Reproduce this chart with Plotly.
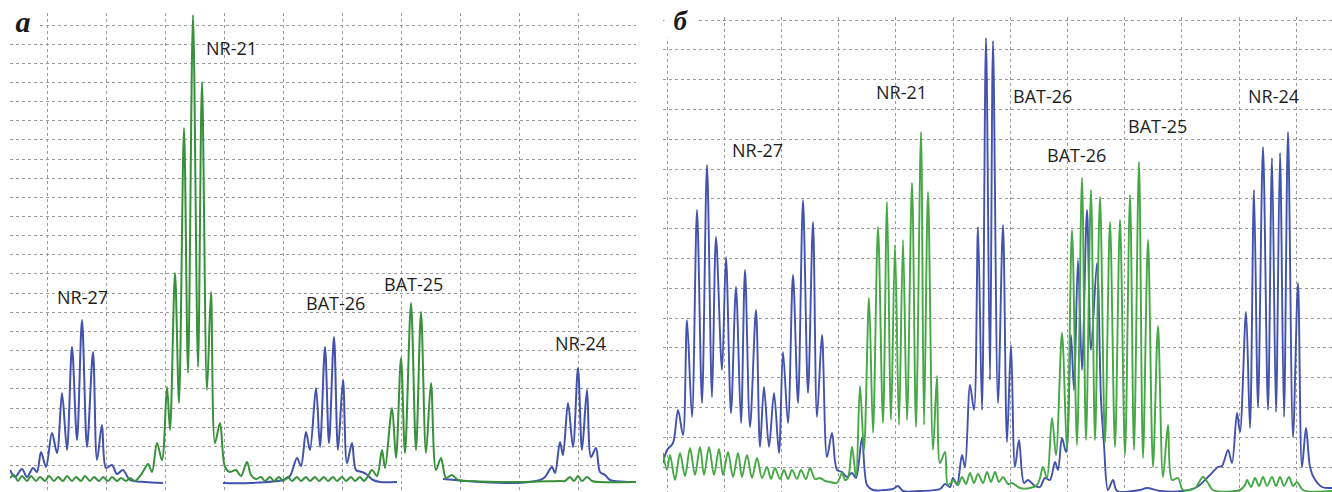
import plotly.graph_objects as go

# ---------------- Panel a (scan position, signal RFU) ----------------
a_blue_x = [10, 15, 22, 27, 33, 37, 41, 46, 52, 57, 62, 67, 72, 77, 82, 87, 93, 97, 102, 106, 112, 117, 123, 130, 145, 163, None,
            223, 250, 283, 290, 297, 301, 306, 310, 316, 320, 325, 329, 334, 338, 343, 347, 352, 356, 362, 366, 373, 380, 397, None,
            443, 480, 517, 540, 545, 552, 555, 560, 563, 568, 573, 578, 582, 587, 591, 596, 600, 605, 610, 630, 636]
a_blue_y = [20, 13, 21, 13, 22, 18, 38, 23, 57, 37, 97, 40, 143, 50, 170, 43, 138, 30, 65, 22, 25, 16, 20, 10, 8, 7, None,
            7, 7, 10, 14, 32, 24, 58, 40, 102, 43, 143, 47, 153, 40, 110, 27, 47, 20, 18, 16, 10, 8, 8, None,
            11, 8, 7, 10, 13, 23, 17, 48, 35, 87, 43, 122, 40, 100, 33, 42, 18, 15, 10, 8, 8]

a_green_x = [10, 14, 18, 22, 27, 31, 36, 40, 45, 49, 54, 58, 63, 67, 72, 76, 81, 85, 90, 94, 99, 103, 108, 112, 117, 121, 126, 130, 135,
             140, 144, 148, 152, 157, 162, 167, 170, 175, 179, 184, 188, 193, 198, 202, 207, 211, 215, 220, 225, 230, 236, 241, 247, 251, 256,
             261, 265, 270, 274, 279, 283, 288, 292, 297, 301, 306, 310, 315, 319, 324, 328, 333, 337, 342, 346, 351, 355, 360, 364, 368, 372,
             377, 382, 385, 392, 396, 401, 405, 411, 416, 421, 426, 431, 436, 441, 446, 452, 458, 470, 520, 560, 565, 570, 574, 578, 582, 587,
             592, 600, 636]
a_green_y = [12, 15, 9, 14, 9, 14, 9, 13, 9, 14, 9, 13, 9, 14, 9, 13, 9, 14, 9, 13, 9, 13, 9, 13, 9, 12, 9, 12, 9,
             14, 20, 26, 18, 47, 30, 103, 60, 217, 87, 362, 117, 475, 123, 408, 100, 198, 47, 67, 23, 18, 20, 14, 28, 15, 11,
             13, 9, 13, 9, 13, 9, 13, 9, 13, 9, 13, 9, 13, 9, 13, 9, 13, 9, 13, 9, 13, 9, 13, 9, 14, 20,
             14, 40, 22, 82, 32, 132, 37, 187, 40, 178, 37, 107, 20, 32, 12, 15, 10, 9, 8, 9, 9, 13, 9, 14, 9, 13,
             9, 8, 8]

a_labels = ["NR-27", "NR-21", "BAT-26", "BAT-25", "NR-24"]
a_label_x = [82, 231, 335, 413, 580]
a_label_y = [193, 442, 187, 206, 147]

# ---------------- Panel б ----------------
b_blue_x = [663, 667, 673, 678, 683, 687, 692, 697, 702, 707, 712, 716, 722, 726, 731, 736, 741, 745, 750, 756, 760, 764, 769, 774, 779,
            783, 788, 793, 798, 803, 808, 813, 817, 822, 827, 832, 837, 842, 847, 852, 856, 862, 867, 873, 885, 893, 898, 903, 920, 940,
            945, 950, 953, 957, 962, 965, 970, 974, 978, 982, 986, 990, 993, 998, 1003, 1007, 1011, 1015, 1019, 1024, 1028, 1035, 1040,
            1045, 1050, 1055, 1058, 1062, 1066, 1071, 1074, 1078, 1082, 1087, 1091, 1097, 1101, 1104, 1108, 1113, 1117, 1140, 1147, 1160,
            1183, 1197, 1210, 1218, 1222, 1228, 1232, 1237, 1240, 1246, 1250, 1254, 1258, 1263, 1268, 1272, 1276, 1280, 1284, 1288, 1293,
            1298, 1302, 1306, 1310, 1314, 1322, 1332]
b_blue_y = [27, 40, 47, 80, 55, 170, 73, 280, 87, 325, 93, 253, 120, 233, 77, 203, 67, 220, 63, 180, 43, 103, 43, 97, 37,
            138, 67, 215, 87, 290, 97, 268, 73, 155, 33, 57, 20, 18, 13, 17, 12, 52, 5, 0, 0, 1, 4, -1, -1, 1,
            6, 3, 12, 5, 35, 23, 105, 80, 263, 80, 452, 110, 449, 87, 265, 48, 145, 23, 50, 7, 10, 4, 3,
            12, 10, 28, 20, 52, 38, 155, 100, 230, 120, 280, 140, 227, 90, 45, 0, 10, -1, 0, 2, -1,
            -1, 3, 15, 23, 24, 40, 27, 77, 58, 178, 62, 300, 83, 343, 80, 332, 78, 337, 73, 358, 53,
            207, 23, 62, 23, 12, 3, 2]

b_green_x = [663, 667, 670, 675, 680, 685, 690, 695, 700, 704, 709, 714, 719, 723, 728, 733, 738, 742, 747, 752, 757, 762, 767, 771,
             775, 780, 784, 788, 792, 797, 801, 806, 810, 815, 820, 825, 830, 837, 842, 845, 848, 852, 856, 860, 864, 869, 873, 878,
             883, 887, 891, 895, 899, 903, 907, 912, 916, 921, 924, 928, 933, 937, 940, 945, 948, 954, 958, 962, 966, 970, 974, 978,
             983, 987, 991, 995, 999, 1003, 1008, 1012, 1020, 1030, 1037, 1040, 1043, 1047, 1052, 1056, 1062, 1067, 1072, 1077, 1082,
             1086, 1091, 1095, 1100, 1105, 1110, 1115, 1120, 1125, 1130, 1134, 1139, 1143, 1148, 1153, 1158, 1163, 1168, 1172, 1178,
             1183, 1195, 1203, 1208, 1213, 1240, 1245, 1247, 1251, 1255, 1259, 1263, 1267, 1272, 1276, 1280, 1284, 1289, 1293, 1297,
             1303, 1332]
b_green_y = [37, 20, 35, 10, 37, 14, 42, 15, 43, 15, 43, 15, 41, 15, 38, 13, 37, 13, 35, 12, 32, 12, 23, 11,
             22, 11, 20, 11, 20, 11, 20, 11, 22, 11, 12, 9, 8, 7, 17, 10, 12, 43, 13, 104, 40, 192, 57, 263,
             67, 288, 70, 245, 65, 250, 70, 307, 63, 358, 65, 298, 40, 114, 27, 38, 5, 10, 5, 13, 6, 17, 7, 16,
             7, 18, 8, 18, 8, 13, 6, 7, 2, 2, 5, 12, 23, 12, 72, 35, 157, 40, 260, 45, 312,
             50, 300, 50, 293, 47, 268, 43, 270, 35, 295, 40, 328, 32, 250, 23, 164, 13, 65, 10, 12,
             0, 2, 13, 7, 0, 0, 5, 10, 3, 12, 4, 13, 4, 13, 4, 13, 4, 13, 4, 8,
             0, -1]

b_labels = ["NR-27", "NR-21", "BAT-26", "BAT-26", "BAT-25", "NR-24"]
b_label_x = [757, 901, 1042, 1076, 1157, 1273]
b_label_y = [340, 398, 394, 335, 364, 394]

panel_letters = ["a", "б"]

BLUE = "#4252ad"
GREEN_A = "#37913a"
GREEN_B = "#45a845"
GRID = "#999999"

fig = go.Figure()
fig.add_trace(go.Scatter(x=a_blue_x, y=a_blue_y, mode="lines", line=dict(color=BLUE, width=2, shape="spline", smoothing=0.9),
                         xaxis="x", yaxis="y", connectgaps=False))
fig.add_trace(go.Scatter(x=a_green_x, y=a_green_y, mode="lines", line=dict(color=GREEN_A, width=2, shape="spline", smoothing=0.9),
                         xaxis="x", yaxis="y"))
fig.add_trace(go.Scatter(x=b_blue_x, y=b_blue_y, mode="lines", line=dict(color=BLUE, width=1.9, shape="spline", smoothing=0.9),
                         xaxis="x2", yaxis="y2"))
fig.add_trace(go.Scatter(x=b_green_x, y=b_green_y, mode="lines", line=dict(color=GREEN_B, width=1.9, shape="spline", smoothing=0.9),
                         xaxis="x2", yaxis="y2"))

W, H = 1332, 492
grid_common = dict(showgrid=True, gridcolor=GRID, gridwidth=1, griddash="dot", zeroline=False,
                   showline=False, showticklabels=False, ticks="")

a_xgrid = [47 + 59 * k for k in range(10)]
a_ygrid = [490 - (25 + 19.15 * k) for k in range(24)]
b_xgrid = [667 + 57.2 * k for k in range(12)]
b_ygrid = [490 - (20 + 29.8 * k) for k in range(16)]

fig.update_layout(
    width=W, height=H, margin=dict(l=0, r=0, t=0, b=0),
    paper_bgcolor="white", plot_bgcolor="white", showlegend=False, hovermode=False,
    xaxis=dict(domain=[10 / W, 636 / W], range=[10, 636], tickvals=a_xgrid, tickmode="array", anchor="y", **grid_common),
    yaxis=dict(domain=[0, 1 - 13 / H], range=[-2, 477], tickvals=a_ygrid, tickmode="array", anchor="x", **grid_common),
    xaxis2=dict(domain=[663 / W, 1.0], range=[663, 1332], tickvals=b_xgrid, tickmode="array", anchor="y2", **grid_common),
    yaxis2=dict(domain=[0, 1 - 17 / H], range=[-2, 473], tickvals=b_ygrid, tickmode="array", anchor="x2", **grid_common),
)

anns = []
for t, x, y in zip(a_labels, a_label_x, a_label_y):
    anns.append(dict(x=x, y=y, xref="x", yref="y", text=t, showarrow=False,
                     font=dict(family="Open Sans", size=18, color="#1e1e1e")))
for t, x, y in zip(b_labels, b_label_x, b_label_y):
    anns.append(dict(x=x, y=y, xref="x2", yref="y2", text=t, showarrow=False,
                     font=dict(family="Open Sans", size=18, color="#1e1e1e")))
anns.append(dict(x=6 / W, y=1 - 4 / H, xref="paper", yref="paper", xanchor="left", yanchor="top",
                 text="<b><i>%s</i></b>" % panel_letters[0], showarrow=False, bgcolor="white", borderpad=2,
                 width=28, height=28, font=dict(family="Liberation Serif", size=30, color="#1a1a1a")))
anns.append(dict(x=664 / W, y=1 - 4 / H, xref="paper", yref="paper", xanchor="left", yanchor="top",
                 text="<b><i>%s</i></b>" % panel_letters[1], showarrow=False, bgcolor="white", borderpad=2,
                 width=28, height=28, font=dict(family="Liberation Serif", size=27, color="#1a1a1a")))
fig.update_layout(annotations=anns)

fig.write_html("out.html", config={"displayModeBar": False, "staticPlot": True},
               post_script="document.body.style.margin='0';document.body.style.padding='0';document.documentElement.style.overflow='hidden';")
